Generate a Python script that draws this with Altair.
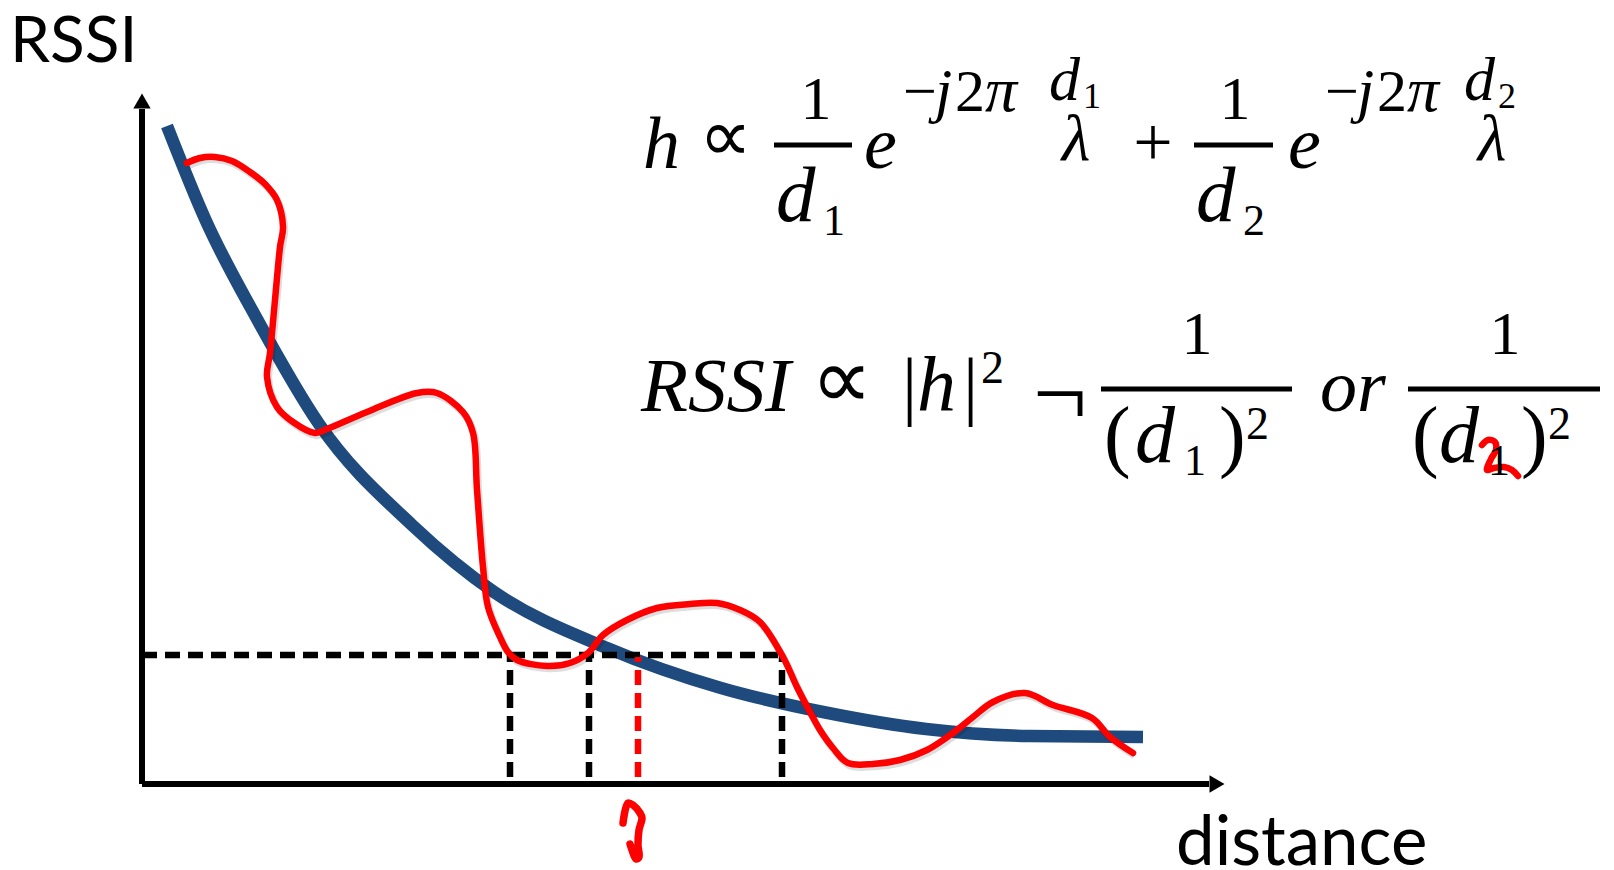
import altair as alt
import pandas as pd

# Canvas and coordinate frame: one data unit = 100 px, origin at the axes corner
W, H = 1614, 870
X0_PX, Y0_PX, UNIT = 142, 784, 100.0


def ux(px):
    return (px - X0_PX) / UNIT


def uy(py):
    return (Y0_PX - py) / UNIT


X_DOMAIN = [ux(0), ux(W)]
Y_DOMAIN = [uy(H), uy(0)]

# Path-loss model (blue)
model_distance = [0.25, 0.64, 1.15, 1.77, 2.70, 3.52, 4.65, 5.79, 6.81, 7.84, 8.87, 10.01]
model_rssi = [6.58, 5.63, 4.65, 3.60, 2.59, 1.92, 1.36, 0.96, 0.72, 0.55, 0.48, 0.47]

# Measured RSSI with multipath fading (red)
measured_distance = [0.45, 0.58, 0.73, 0.90, 1.08, 1.23, 1.35, 1.41, 1.38, 1.33,
                     1.28, 1.25, 1.35, 1.51, 1.73, 1.85, 2.25, 2.75, 2.95, 3.21,
                     3.31, 3.35, 3.41, 3.46, 3.58, 3.66, 3.75, 4.05, 4.28, 4.46,
                     4.61, 4.85, 5.15, 5.48, 5.75, 5.98, 6.18, 6.41, 6.55, 6.68,
                     6.78, 6.91, 7.06, 7.31, 7.58, 7.85, 8.11, 8.31, 8.51, 8.83,
                     9.11, 9.50, 9.68, 9.91]
measured_rssi = [6.21, 6.26, 6.27, 6.23, 6.12, 6.00, 5.84, 5.57, 5.37, 4.84,
                 4.31, 4.07, 3.77, 3.62, 3.51, 3.55, 3.72, 3.91, 3.91, 3.72,
                 3.51, 2.94, 2.17, 1.77, 1.47, 1.32, 1.24, 1.18, 1.21, 1.31,
                 1.49, 1.64, 1.76, 1.80, 1.81, 1.74, 1.62, 1.27, 0.97, 0.72,
                 0.54, 0.36, 0.21, 0.20, 0.24, 0.34, 0.51, 0.67, 0.82, 0.91,
                 0.79, 0.66, 0.47, 0.31]

# Observed RSSI level and the distances it maps to
level_rssi = 1.29
crossing_distances = [3.68, 4.47, 6.40]
model_distance_at_level = 4.96
drop_bottom = 0.07

# Axis extents (arrow tips)
x_axis_end = 10.67
y_axis_end = 6.75
x_arrow_at = 10.75
y_arrow_at = 6.83

# Hand-written red ink: a "2" over the subscript and a mark under the axis
ink_two_x = [13.40, 13.46, 13.53, 13.54, 13.49, 13.45, 13.52, 13.62, 13.70, 13.76]
ink_two_y = [3.39, 3.44, 3.42, 3.34, 3.25, 3.14, 3.16, 3.17, 3.14, 3.08]
ink_mark_x = [4.81, 4.86, 4.91, 4.98, 5.00, 4.97, 4.96, 4.97, 4.94, 4.90, 4.88]
ink_mark_y = [-0.39, -0.19, -0.21, -0.29, -0.34, -0.46, -0.61, -0.73, -0.75, -0.66, -0.60]

BLUE = "#1f4a7d"
RED = "#ff0000"
SERIF = "Liberation Serif"
SANS = "Lato"

xs = alt.Scale(domain=X_DOMAIN, nice=False, zero=False)
ys = alt.Scale(domain=Y_DOMAIN, nice=False, zero=False)


def X(f):
    return alt.X(f, type="quantitative", scale=xs, axis=None)


def Y(f):
    return alt.Y(f, type="quantitative", scale=ys, axis=None)


model_df = pd.DataFrame({"d": model_distance, "r": model_rssi})
meas_df = pd.DataFrame({"d": measured_distance, "r": measured_rssi,
                        "i": range(len(measured_distance))})

# axes with arrow heads
axes_df = pd.DataFrame({"x": [0, 0], "y": [0, 0],
                        "x2": [x_axis_end, 0], "y2": [0, y_axis_end]})
axes = alt.Chart(axes_df).mark_rule(color="black", strokeWidth=6).encode(
    x=X("x"), y=Y("y"), x2="x2", y2="y2")
arrow_up = alt.Chart(pd.DataFrame({"x": [0], "y": [y_arrow_at]})).mark_point(
    shape="triangle-up", filled=True, size=300, color="black", opacity=1
).encode(x=X("x"), y=Y("y"))
arrow_right = alt.Chart(pd.DataFrame({"x": [x_arrow_at], "y": [0]})).mark_point(
    shape="triangle-right", filled=True, size=300, color="black", opacity=1
).encode(x=X("x"), y=Y("y"))

model = alt.Chart(model_df).mark_line(
    color=BLUE, strokeWidth=12.5, interpolate="monotone", strokeCap="butt"
).encode(x=X("d"), y=Y("r"))

dash = [15, 8]
level = alt.Chart(pd.DataFrame({"x": [0], "x2": [max(crossing_distances)], "y": [level_rssi]})).mark_rule(
    color="black", strokeWidth=6.5, strokeDash=dash
).encode(x=X("x"), x2="x2", y=Y("y"))
drops = alt.Chart(pd.DataFrame({"x": crossing_distances,
                                "y": [drop_bottom] * len(crossing_distances),
                                "y2": [level_rssi] * len(crossing_distances)})).mark_rule(
    color="black", strokeWidth=6.5, strokeDash=dash
).encode(x=X("x"), y=Y("y"), y2="y2")
drop_model = alt.Chart(pd.DataFrame({"x": [model_distance_at_level], "y": [drop_bottom],
                                     "y2": [level_rssi - 0.02]})).mark_rule(
    color=RED, strokeWidth=6.5, strokeDash=dash
).encode(x=X("x"), y=Y("y"), y2="y2")

meas_shadow = alt.Chart(meas_df).mark_line(
    color="#000000", opacity=0.13, strokeWidth=7.5, interpolate="catmull-rom",
    xOffset=1.5, yOffset=2.5, strokeJoin="round"
).encode(x=X("d"), y=Y("r"), order="i:Q")
meas = alt.Chart(meas_df).mark_line(
    color=RED, strokeWidth=6.5, interpolate="catmull-rom", strokeJoin="round", strokeCap="round"
).encode(x=X("d"), y=Y("r"), order="i:Q")


def ink(xv, yv, width):
    df = pd.DataFrame({"x": xv, "y": yv, "i": range(len(xv))})
    return alt.Chart(df).mark_line(
        color=RED, strokeWidth=width, strokeCap="round", strokeJoin="round",
        interpolate="catmull-rom"
    ).encode(x=X("x"), y=Y("y"), order="i:Q")


# Formula typesetting: (text, left/centre px, baseline px, size, italic, align)
formula_pieces = [
    # h ∝ 1/d1 e^{-j2π d1/λ} + 1/d2 e^{-j2π d2/λ}
    ("h", 643, 168, 74, True, "left"),
    ("∝", 699, 161, 74, False, "left"),
    ("1", 816, 119, 62, False, "center"),
    ("d", 776, 221, 79, True, "left"),
    ("1", 823, 235, 44, False, "left"),
    ("e", 864, 168, 74, True, "left"),
    ("−", 903, 111, 60, False, "left"),
    ("j", 935, 111, 62, True, "left"),
    ("2", 955, 111, 60, False, "left"),
    ("π", 985, 111, 64, True, "left"),
    ("d", 1049, 100, 62, True, "left"),
    ("1", 1083, 108, 36, False, "left"),
    ("λ", 1076, 160, 66, True, "center"),
    ("+", 1153, 166, 70, False, "center"),
    ("1", 1235, 119, 62, False, "center"),
    ("d", 1196, 221, 79, True, "left"),
    ("2", 1243, 235, 44, False, "left"),
    ("e", 1288, 168, 74, True, "left"),
    ("−", 1325, 111, 60, False, "left"),
    ("j", 1357, 111, 62, True, "left"),
    ("2", 1377, 111, 60, False, "left"),
    ("π", 1407, 111, 64, True, "left"),
    ("d", 1464, 100, 62, True, "left"),
    ("2", 1498, 108, 36, False, "left"),
    ("λ", 1492, 160, 66, True, "center"),
    # RSSI ∝ |h|^2 ¬ 1/(d1)^2 or 1/(d1)^2
    ("RSSI", 641, 411, 77, True, "left"),
    ("∝", 811, 408, 86, False, "left"),
    ("|", 902, 411, 76, False, "left"),
    ("h", 917, 411, 78, True, "left"),
    ("|", 963, 411, 76, False, "left"),
    ("2", 981, 383, 46, False, "left"),
    ("¬", 1033, 425, 96, False, "left"),
    ("1", 1197, 354, 62, False, "center"),
    ("(", 1104, 462, 80, False, "left"),
    ("d", 1135, 462, 80, True, "left"),
    ("1", 1184, 475, 44, False, "left"),
    (")", 1219, 462, 80, False, "left"),
    ("2", 1246, 439, 46, False, "left"),
    ("or", 1320, 411, 74, True, "left"),
    ("1", 1505, 354, 62, False, "center"),
    ("(", 1412, 462, 80, False, "left"),
    ("d", 1439, 462, 80, True, "left"),
    ("1", 1488, 475, 44, False, "left"),
    (")", 1521, 462, 80, False, "left"),
    ("2", 1548, 439, 46, False, "left"),
]
fraction_bars = [(774, 852, 145), (1194, 1273, 145), (1101, 1292, 389), (1408, 1600, 389)]

# axis titles: (text, left px, baseline px, size)
axis_titles = [("RSSI", 10, 62, 64), ("distance", 1176, 865, 69)]

fp = pd.DataFrame(formula_pieces, columns=["t", "px", "py", "fs", "it", "al"])
fp["x"] = fp["px"].map(ux)
fp["y"] = fp["py"].map(uy)

text_layers = []
for (it, al), grp in fp.groupby(["it", "al"]):
    text_layers.append(
        alt.Chart(grp[["t", "x", "y", "fs"]]).mark_text(
            font=SERIF, fontStyle="italic" if it else "normal", align=al,
            baseline="alphabetic", color="black"
        ).encode(x=X("x"), y=Y("y"), text="t:N",
                 size=alt.Size("fs:Q", scale=None, legend=None))
    )

bars_df = pd.DataFrame({"x": [ux(a) for a, _, _ in fraction_bars],
                        "x2": [ux(b) for _, b, _ in fraction_bars],
                        "y": [uy(c) for _, _, c in fraction_bars]})
bars = alt.Chart(bars_df).mark_rule(color="black", strokeWidth=5).encode(
    x=X("x"), x2="x2", y=Y("y"))

at = pd.DataFrame(axis_titles, columns=["t", "px", "py", "fs"])
at["x"] = at["px"].map(ux)
at["y"] = at["py"].map(uy)
titles = alt.Chart(at[["t", "x", "y", "fs"]]).mark_text(
    font=SANS, align="left", baseline="alphabetic", color="black"
).encode(x=X("x"), y=Y("y"), text="t:N", size=alt.Size("fs:Q", scale=None, legend=None))

chart = alt.layer(
    axes, arrow_up, arrow_right, model, level, drops, drop_model,
    meas_shadow, meas,
    ink(ink_two_x, ink_two_y, 6.5), ink(ink_mark_x, ink_mark_y, 7.5),
    bars, titles, *text_layers
).properties(
    width=W, height=H, padding=0, autosize="none", background="white"
).configure_view(stroke=None)

chart.save("out.html", embed_options={"renderer": "svg", "actions": False})
